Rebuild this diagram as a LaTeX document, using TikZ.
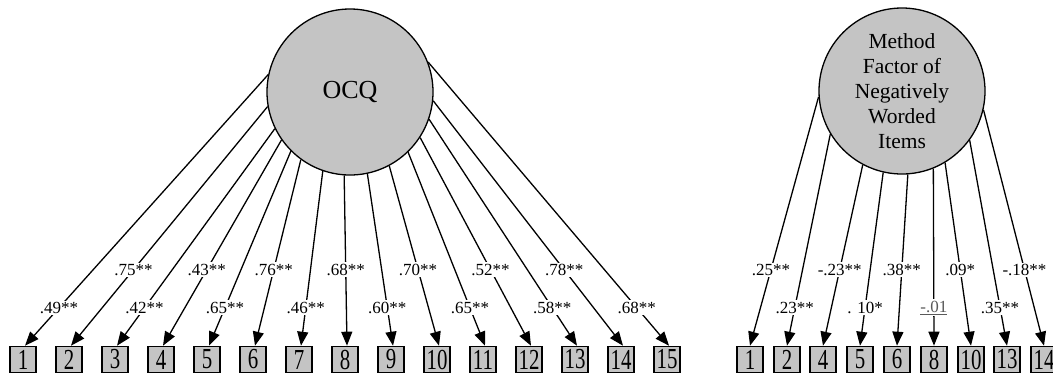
\documentclass[tikz,border=0pt]{standalone}
\usepackage{fontspec}
\setmainfont{Liberation Serif}
\usepackage{graphicx}
\usetikzlibrary{arrows.meta}
\definecolor{fillgray}{RGB}{196,196,196}
\begin{document}
\begin{tikzpicture}[x=1pt,y=-1pt,
  lat/.style={circle, draw, line width=1.3pt, fill=fillgray, minimum size=166pt, inner sep=0pt, align=center},
  obs/.style={draw, line width=1.6pt, fill=fillgray, minimum width=26pt, minimum height=26pt, inner sep=0pt, font=\fontsize{29}{29}\selectfont},
  load/.style={line width=1.3pt, -{Triangle[length=14pt,width=11pt]}},
  lbl/.style={fill=white, inner sep=1.5pt, font=\fontsize{17}{17}\selectfont}]
\useasboundingbox (0,0) rectangle (1053,376);
% latent factors
\node[lat, font=\fontsize{26}{26}\selectfont] (ocq) at (350,92) {OCQ};
\node[lat, font=\fontsize{21.5}{25}\selectfont] (mf) at (902,91) {Method\\Factor of\\Negatively\\Worded\\Items};
% observed items, left model
\foreach \i in {1,...,15}
  \node[obs] (L\i) at ({23+46*(\i-1)},359.5) {\scalebox{0.72}[1]{\i}};
% observed items, right model
\foreach \n/\x in {1/750,2/787,4/823,5/860,6/897,8/934,10/971,13/1007,14/1044}
  \node[obs] (R\n) at (\x,359.5) {\scalebox{0.72}[1]{\n}};
% loadings, left model
\foreach \i/\a/\yl in {1/168/308,2/190/270,3/206/308,4/215/270,5/225/308,6/234/270,7/251/308,8/266/270,9/282/308,10/298/270,11/314/308,12/327/270,13/341/308,14/354/270,15/21/308}{
  \pgfmathsetmacro\sy{92-84*sin(\a)}
  \pgfmathsetmacro\ps{(\yl-\sy)/(346-\sy)}
  \draw[load] (ocq.\a) -- ([xshift=2pt]L\i.north) coordinate[pos=\ps] (la\i);
}
\foreach \i/\lab in {1/.49**,2/.75**,3/.42**,4/.43**,5/.65**,6/.76**,7/.46**,8/.68**,9/.60**,10/.70**,11/.65**,12/.52**,13/.58**,14/.78**,15/.68**}
  \node[lbl] at (la\i) {\lab};
% loadings, right model
\foreach \n/\a/\yl in {1/184/270,2/211/308,4/242/270,5/257/308,6/274/270,8/292/308,10/301/270,13/324/308,14/347/270}{
  \pgfmathsetmacro\sy{91-84*sin(\a)}
  \pgfmathsetmacro\ps{(\yl-\sy)/(346-\sy)}
  \draw[load] (mf.\a) -- (R\n.north) coordinate[pos=\ps] (ra\n);
}
\foreach \n/\lab in {1/.25**,2/.23**,4/-.23**,5/. 10*,6/.38**,8/{\textcolor{black!65}{\underline{-.01}}},10/.09*,13/.35**,14/-.18**}
  \node[lbl] at (ra\n) {\lab};
\end{tikzpicture}
\end{document}
